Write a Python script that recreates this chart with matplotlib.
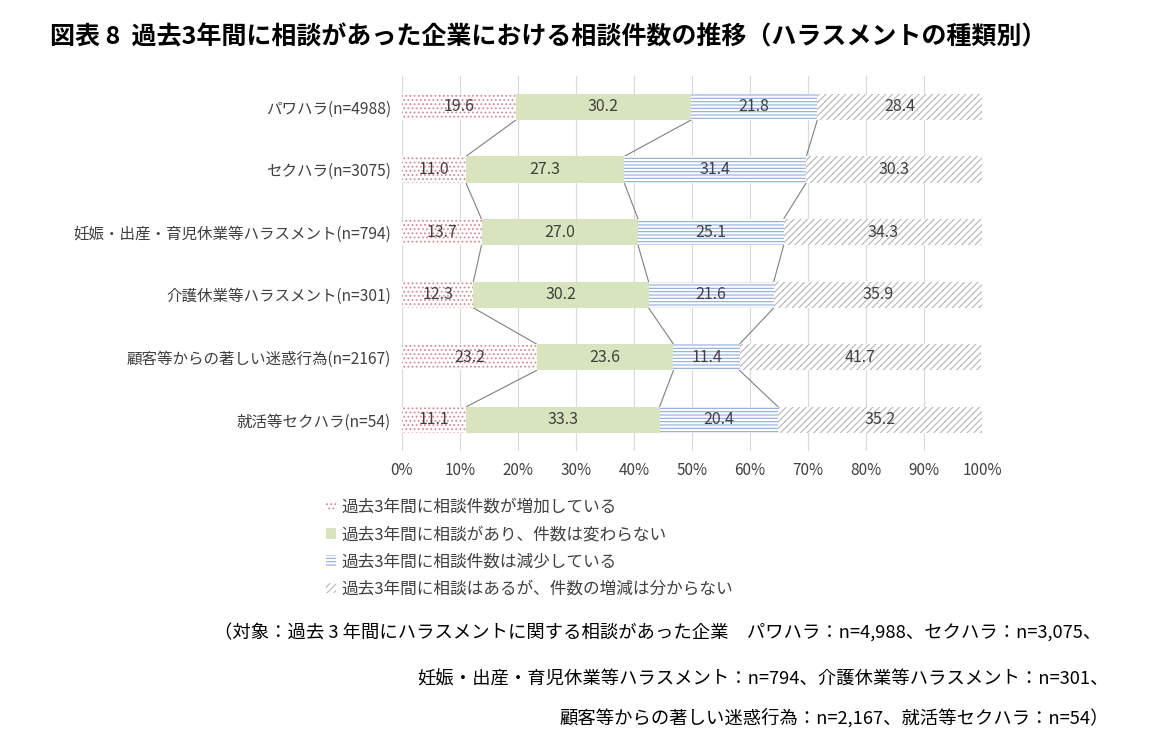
import numpy as np
import matplotlib.pyplot as plt
from matplotlib.patches import Patch

plt.rcParams['font.family'] = ['Noto Sans CJK JP', 'DejaVu Sans']
plt.rcParams['hatch.linewidth'] = 0.8

categories = ["パワハラ(n=4988)", "セクハラ(n=3075)", "妊娠・出産・育児休業等ハラスメント(n=794)",
              "介護休業等ハラスメント(n=301)", "顧客等からの著しい迷惑行為(n=2167)", "就活等セクハラ(n=54)"]
increased = [19.6, 11.0, 13.7, 12.3, 23.2, 11.1]
unchanged = [30.2, 27.3, 27.0, 30.2, 23.6, 33.3]
decreased = [21.8, 31.4, 25.1, 21.6, 11.4, 20.4]
unknown = [28.4, 30.3, 34.3, 35.9, 41.7, 35.2]
series_names = ["過去3年間に相談件数が増加している", "過去3年間に相談があり、件数は変わらない",
                "過去3年間に相談件数は減少している", "過去3年間に相談はあるが、件数の増減は分からない"]

series = [increased, unchanged, decreased, unknown]
styles = [
    dict(facecolor="white", edgecolor="#d98a92", hatch="...."),
    dict(facecolor="#d7e4bd", edgecolor="#d7e4bd", hatch=None),
    dict(facecolor="white", edgecolor="#8faadc", hatch="-----"),
    dict(facecolor="white", edgecolor="#b5b5b5", hatch="/////"),
]

fig = plt.figure(figsize=(11.53, 7.42), dpi=100)
ax = fig.add_axes([0.3487, 0.392, 0.5030, 0.506])

y = np.arange(len(categories))
h = 0.42
left = np.zeros(len(categories))
cums = []
for vals, st, name in zip(series, styles, series_names):
    vals = np.array(vals)
    ax.bar(left + vals / 2, h, width=vals, bottom=y - h / 2, color=st["facecolor"],
           edgecolor=st["edgecolor"], hatch=st["hatch"], linewidth=0, zorder=2, label=name)
    for yi, l, v in zip(y, left, vals):
        ax.text(l + v / 2, yi, f"{v:.1f}", ha="center", va="center", fontsize=11.5,
                color="#404040", zorder=4)
    left = left + vals
    cums.append(left.copy())

# series lines between stacked bars
for c in cums[:3]:
    for i in range(len(categories) - 1):
        ax.plot([c[i], c[i + 1]], [y[i] + h / 2, y[i + 1] - h / 2], color="#808080",
                lw=0.8, zorder=1)

ax.set_xlim(0, 100)
ax.set_ylim(len(categories) - 0.5, -0.5)
ax.set_xticks(np.arange(0, 101, 10))
ax.set_xticklabels([f"{t}%" for t in range(0, 101, 10)], fontsize=11, color="#404040")
ax.set_yticks(y)
ax.set_yticklabels(categories, fontsize=11.2, color="#404040")
ax.tick_params(length=0, pad=8)
ax.xaxis.grid(True, color="#d9d9d9", lw=0.8, zorder=0)
ax.set_axisbelow(True)
for s in ax.spines.values():
    s.set_visible(False)

fig.text(0.043, 0.950, "図表 8  過去3年間に相談があった企業における相談件数の推移（ハラスメントの種類別）",
         fontsize=18, fontweight="bold", ha="left", va="center")

handles = [Patch(facecolor=st["facecolor"], edgecolor=st["edgecolor"], hatch=st["hatch"], linewidth=0)
           for st in styles]
fig.legend(handles, series_names, loc="upper left", bbox_to_anchor=(0.270, 0.348), frameon=False,
           fontsize=12, handlelength=0.6, handleheight=0.6, handletextpad=0.3, labelspacing=0.62,
           labelcolor="#404040")

foot = ["（対象：過去 3 年間にハラスメントに関する相談があった企業　パワハラ：n=4,988、セクハラ：n=3,075、",
        "妊娠・出産・育児休業等ハラスメント：n=794、介護休業等ハラスメント：n=301、",
        "顧客等からの著しい迷惑行為：n=2,167、就活等セクハラ：n=54）"]
fig.text(0.186, 0.147, foot[0], fontsize=13.2, ha="left", va="center")
fig.text(0.962, 0.084, foot[1], fontsize=13.2, ha="right", va="center")
fig.text(0.962, 0.032, foot[2], fontsize=13.2, ha="right", va="center")

fig.savefig("out.png", dpi=100)
